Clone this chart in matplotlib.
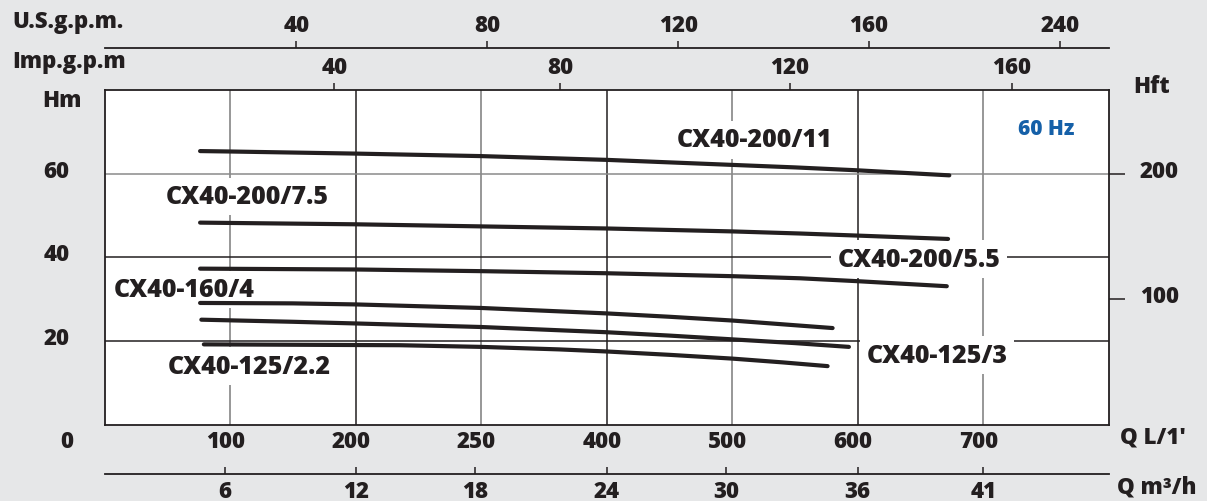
import matplotlib
matplotlib.use("Agg")
import matplotlib.pyplot as plt
from matplotlib.transforms import ScaledTranslation

# ---------------- data ----------------
# flow positions in L/min (chart scale), heads in metres
q_11 = [76, 100, 200, 300, 400, 500, 550, 600, 673]
h_11 = [65.4, 65.3, 64.8, 64.2, 63.3, 62.1, 61.5, 60.8, 59.6]

q_75 = [76, 200, 300, 400, 500, 554, 600, 672]
h_75 = [48.3, 47.9, 47.4, 46.9, 46.2, 45.7, 45.2, 44.4]

q_55 = [76, 200, 300, 400, 500, 554, 600, 671]
h_55 = [37.3, 37.1, 36.7, 36.2, 35.5, 35.0, 34.3, 33.1]

q_4 = [76, 150, 200, 300, 400, 450, 500, 580]
h_4 = [29.1, 29.0, 28.75, 27.9, 26.6, 25.8, 24.9, 23.1]

q_3 = [77, 150, 200, 300, 400, 450, 500, 550, 593]
h_3 = [25.1, 24.6, 24.2, 23.35, 22.1, 21.3, 20.4, 19.5, 18.6]

q_22 = [79, 235, 300, 362, 400, 450, 500, 540, 576]
h_22 = [19.2, 19.0, 18.6, 18.0, 17.5, 16.7, 15.8, 14.9, 14.0]

curve_names = ["CX40-200/11", "CX40-200/7.5", "CX40-200/5.5",
               "CX40-160/4", "CX40-125/3", "CX40-125/2.2"]

# axis ticks
lmin_ticks = [100, 200, 300, 400, 500, 600, 700]
lmin_labels = ["100", "200", "250", "400", "500", "600", "700"]
hm_ticks = [0, 20, 40, 60]
hm_labels = ["0", "20", "40", "60"]
hft_ticks_m = [30, 60]
hft_labels = ["100", "200"]
m3h_ticks_pos = [95.5, 200.3, 295, 400, 495, 600, 700]
m3h_labels = ["6", "12", "18", "24", "30", "36", "41"]
usgpm_ticks_pos = [152.6, 304.8, 457, 609, 761]
usgpm_labels = ["40", "80", "120", "160", "240"]
impgpm_ticks_pos = [183, 363, 546, 723]
impgpm_labels = ["40", "80", "120", "160"]

# label anchor points (left edge flow, head)
label_pos = {
    "CX40-200/11": (456, 68.1),
    "CX40-200/7.5": (49, 54.6),
    "CX40-200/5.5": (584, 39.6),
    "CX40-160/4": (7.5, 32.3),
    "CX40-125/3": (607, 16.6),
    "CX40-125/2.2": (50.5, 14.0),
}

# ---------------- style ----------------
BG = "#e6e7e8"
INK = "#231f20"
FONT = ["Open Sans", "DejaVu Sans"]
WEIGHT = 800
plt.rcParams["font.family"] = FONT
plt.rcParams["font.weight"] = "bold"

W, H = 1207, 502
fig = plt.figure(figsize=(W / 100, H / 100), dpi=100, facecolor=BG)

def fx(p):
    return p / W

def fy(p):
    return 1 - p / H

L, R, T, B = 104.7, 1108.7, 91.0, 425.7
ax = fig.add_axes([fx(L), fy(B), (R - L) / W, (B - T) / H])
ax.set_facecolor("white")
ax.set_xlim(0, 800)
ax.set_ylim(0, 80)
for s in ax.spines.values():
    s.set_color(INK)
    s.set_linewidth(1.3)
    s.set_zorder(5)

TICK_FS = 16
# x ticks (L/min)
ax.set_xticks(lmin_ticks)
ax.set_xticklabels(lmin_labels, fontsize=TICK_FS, fontweight=WEIGHT, color=INK)
ax.tick_params(axis="x", length=0, pad=3)
for lbl in ax.get_xticklabels():
    lbl.set_transform(lbl.get_transform() + ScaledTranslation(-5 / 100, 0, fig.dpi_scale_trans))
# y ticks (Hm)
ax.set_yticks(hm_ticks)
ax.set_yticklabels(hm_labels, fontsize=TICK_FS, fontweight=WEIGHT, color=INK)
ax.tick_params(axis="y", length=0, pad=25.5)
for lbl in ax.get_yticklabels():
    if lbl.get_text() == "0":
        off = ScaledTranslation(4 / 100, -13 / 100, fig.dpi_scale_trans)
    else:
        off = ScaledTranslation(0, 6 / 100, fig.dpi_scale_trans)
    lbl.set_transform(lbl.get_transform() + off)

ax.grid(True, linewidth=1.1)
gx_cols = ["#7a7a7a", INK, "#7a7a7a", INK, "#7a7a7a", INK, "#7a7a7a"]
for gl, c in zip(ax.get_xgridlines(), gx_cols):
    gl.set_color(c)
gy_cols = {0: INK, 20: INK, 40: INK, 60: "#8a8a8a"}
for gl, t in zip(ax.get_ygridlines(), hm_ticks):
    gl.set_color(gy_cols[t])
    if t == 0:
        gl.set_visible(False)
ax.set_axisbelow(True)

# curves
series = [(q_11, h_11), (q_75, h_75), (q_55, h_55), (q_4, h_4), (q_3, h_3), (q_22, h_22)]
for q, h in series:
    ax.plot(q, h, color=INK, lw=3.0, solid_capstyle="round", solid_joinstyle="round", zorder=3)

# curve labels
LAB_FS = 18
for name in curve_names:
    x, y = label_pos[name]
    ax.text(x, y, name, fontsize=LAB_FS, fontweight=WEIGHT, color=INK,
            ha="left", va="center", zorder=2.5,
            bbox=dict(boxstyle="square,pad=0.25", fc="white", ec="none"))

ax.text(750, 70.7, "60 Hz", fontsize=15, fontweight=WEIGHT, color="#1560a8",
        ha="center", va="center", zorder=4)

# right Hft axis
sec_r = ax.secondary_yaxis("right")
sec_r.set_yticks(hft_ticks_m)
sec_r.set_yticklabels(hft_labels, fontsize=TICK_FS, fontweight=WEIGHT, color=INK)
sec_r.tick_params(axis="y", length=11.5, width=1.1, color=INK, pad=11)
sec_r.spines["right"].set_visible(False)
for lbl in sec_r.get_yticklabels():
    lbl.set_transform(lbl.get_transform() + ScaledTranslation(0, 6 / 100, fig.dpi_scale_trans))

# Imp gpm on top of main axes
sec_t = ax.secondary_xaxis("top")
sec_t.set_xticks(impgpm_ticks_pos)
sec_t.set_xticklabels(impgpm_labels, fontsize=TICK_FS, fontweight=WEIGHT, color=INK)
sec_t.tick_params(axis="x", length=5, width=1.1, color=INK, pad=3, direction="out")
sec_t.spines["top"].set_visible(False)

# US gpm axis
ax_us = fig.add_axes([fx(L), fy(48.7), (R - L) / W, 0.0001])
ax_us.set_xlim(0, 800)
ax_us.patch.set_visible(False)
for k, s in ax_us.spines.items():
    s.set_visible(k == "top")
ax_us.spines["top"].set_color(INK)
ax_us.spines["top"].set_linewidth(1.3)
ax_us.set_yticks([])
ax_us.xaxis.set_ticks_position("top")
ax_us.set_xticks(usgpm_ticks_pos)
ax_us.set_xticklabels(usgpm_labels, fontsize=TICK_FS, fontweight=WEIGHT, color=INK)
ax_us.tick_params(axis="x", length=5, width=1.1, color=INK, pad=3, direction="out")

# m3/h axis
ax_m3 = fig.add_axes([fx(L), fy(474.5), (R - L) / W, 0.0001])
ax_m3.set_xlim(0, 800)
ax_m3.patch.set_visible(False)
for k, s in ax_m3.spines.items():
    s.set_visible(k == "bottom")
ax_m3.spines["bottom"].set_color(INK)
ax_m3.spines["bottom"].set_linewidth(1.3)
ax_m3.set_yticks([])
ax_m3.set_xticks(m3h_ticks_pos)
ax_m3.set_xticklabels(m3h_labels, fontsize=TICK_FS, fontweight=WEIGHT, color=INK)
ax_m3.tick_params(axis="x", length=5, width=1.1, color=INK, pad=4, direction="in")

# axis titles
def ftext(x, y, s, ha="left"):
    fig.text(fx(x), fy(y), s, fontsize=TICK_FS, fontweight=WEIGHT, color=INK,
             ha=ha, va="center")

ftext(12, 22, "U.S.g.p.m.")
ftext(12, 62, "Imp.g.p.m")
ftext(42, 101, "Hm")
ftext(1133, 87, "Hft")
ftext(1120, 438, "Q L/1'")
ftext(1117, 488, "Q m³/h")

fig.savefig("out.png", dpi=100, facecolor=BG)
